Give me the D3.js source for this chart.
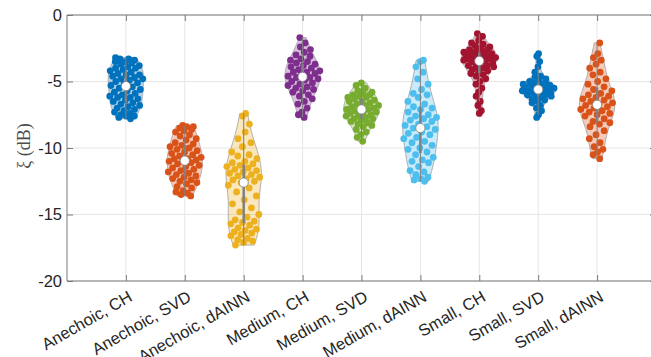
<!DOCTYPE html>
<html>
<head>
<meta charset="utf-8">
<script src="https://cdn.jsdelivr.net/npm/d3@7"></script>
<style>
body{margin:0;background:#fff;}
</style>
</head>
<body>
<svg id="svg" width="651" height="357"></svg>
<script>
var categories = ["Anechoic, CH","Anechoic, SVD","Anechoic, dAINN","Medium, CH","Medium, SVD","Medium, dAINN","Small, CH","Small, SVD","Small, dAINN"];
var colors = ["#0072BD","#D95319","#EDB120","#7E2F8E","#77AC30","#4DBEEE","#A2142F","#0072BD","#D95319"];
var yTicks = [-20,-15,-10,-5,0];

// values (dB)
var anechoicCH = [-3.2,-3.3,-3.3,-3.4,-3.5,-3.5,-3.6,-3.7,-3.8,-3.9,-4.0,-4.0,-4.1,-4.2,-4.3,-4.4,-4.5,-4.5,-4.6,-4.7,-4.8,-4.8,-4.9,-5.0,-5.1,-5.2,-5.3,-5.4,-5.5,-5.6,-5.7,-5.8,-5.9,-6.0,-6.1,-6.2,-6.2,-6.3,-6.4,-6.5,-6.6,-6.7,-6.8,-6.9,-7.0,-7.1,-7.2,-7.3,-7.4,-7.5,-7.6,-7.6,-7.7,-7.8];
var anechoicSVD = [-8.3,-8.4,-8.4,-8.5,-8.6,-8.7,-8.8,-9.0,-9.1,-9.3,-9.4,-9.6,-9.7,-9.8,-9.9,-10.0,-10.1,-10.2,-10.3,-10.4,-10.5,-10.6,-10.7,-10.8,-10.8,-10.9,-11.0,-11.0,-11.1,-11.2,-11.3,-11.4,-11.5,-11.6,-11.7,-11.8,-11.9,-12.0,-12.1,-12.2,-12.3,-12.4,-12.5,-12.6,-12.7,-12.9,-13.0,-13.2,-13.3,-13.4,-13.5,-13.6];
var anechoicDAINN = [-7.4,-7.6,-8.2,-8.8,-9.3,-9.6,-9.9,-10.3,-10.5,-10.6,-10.8,-11.0,-11.1,-11.2,-11.3,-11.4,-11.5,-11.6,-11.7,-11.8,-11.9,-12.0,-12.1,-12.2,-12.3,-12.4,-12.5,-12.6,-12.8,-13.0,-13.3,-13.6,-13.9,-14.2,-14.5,-14.8,-15.0,-15.2,-15.4,-15.5,-15.6,-15.7,-15.8,-16.0,-16.1,-16.2,-16.3,-16.4,-16.5,-16.6,-16.8,-16.9,-17.0,-17.1,-17.3];
var mediumCH = [-1.7,-2.1,-2.4,-2.6,-2.8,-3.0,-3.1,-3.3,-3.4,-3.5,-3.6,-3.7,-3.8,-3.9,-4.0,-4.1,-4.2,-4.3,-4.3,-4.4,-4.5,-4.6,-4.7,-4.7,-4.8,-4.9,-5.0,-5.1,-5.2,-5.3,-5.4,-5.5,-5.6,-5.7,-5.8,-6.0,-6.1,-6.3,-6.5,-6.7,-7.0,-7.3,-7.5,-7.7];
var mediumSVD = [-5.1,-5.3,-5.5,-5.7,-5.8,-5.9,-6.0,-6.0,-6.1,-6.2,-6.2,-6.3,-6.4,-6.5,-6.5,-6.6,-6.7,-6.8,-6.8,-6.9,-7.0,-7.0,-7.1,-7.1,-7.2,-7.3,-7.3,-7.4,-7.5,-7.6,-7.6,-7.7,-7.8,-7.8,-7.9,-8.0,-8.1,-8.2,-8.3,-8.4,-8.6,-8.8,-9.0,-9.2,-9.5];
var mediumDAINN = [-3.4,-3.5,-3.9,-4.3,-4.8,-5.2,-5.6,-5.9,-6.0,-6.2,-6.5,-6.7,-6.9,-7.0,-7.1,-7.3,-7.5,-7.6,-7.7,-7.8,-7.9,-8.0,-8.2,-8.3,-8.4,-8.5,-8.6,-8.8,-8.9,-9.0,-9.2,-9.3,-9.5,-9.6,-9.8,-10.0,-10.1,-10.3,-10.5,-10.7,-10.9,-11.0,-11.1,-11.4,-11.7,-11.8,-12.0,-12.2,-12.3,-12.4,-12.5];
var smallCH = [-1.4,-1.6,-1.9,-2.1,-2.2,-2.3,-2.4,-2.5,-2.6,-2.6,-2.7,-2.8,-2.8,-2.9,-2.9,-3.0,-3.0,-3.1,-3.1,-3.2,-3.2,-3.3,-3.3,-3.4,-3.4,-3.5,-3.5,-3.6,-3.7,-3.8,-3.8,-3.9,-3.9,-4.0,-4.1,-4.2,-4.3,-4.4,-4.5,-4.6,-4.8,-5.0,-5.2,-5.5,-5.8,-6.1,-6.5,-6.8,-7.2,-7.4];
var smallSVD = [-2.9,-3.1,-3.5,-3.9,-4.3,-4.6,-4.7,-4.8,-4.9,-5.0,-5.1,-5.1,-5.2,-5.2,-5.3,-5.3,-5.4,-5.4,-5.4,-5.5,-5.5,-5.6,-5.6,-5.6,-5.7,-5.7,-5.8,-5.8,-5.9,-5.9,-6.0,-6.0,-6.1,-6.1,-6.2,-6.3,-6.4,-6.5,-6.6,-6.8,-7.0,-7.2,-7.5,-7.7];
var smallDAINN = [-2.1,-2.9,-3.2,-3.4,-3.7,-4.0,-4.3,-4.5,-4.8,-5.0,-5.2,-5.4,-5.6,-5.7,-5.9,-6.0,-6.1,-6.2,-6.3,-6.4,-6.5,-6.6,-6.7,-6.8,-6.9,-7.0,-7.1,-7.2,-7.3,-7.4,-7.5,-7.6,-7.8,-8.0,-8.1,-8.2,-8.4,-8.7,-9.0,-9.3,-9.6,-9.9,-10.1,-10.3,-10.5,-10.8];

var series = [anechoicCH,anechoicSVD,anechoicDAINN,mediumCH,mediumSVD,mediumDAINN,smallCH,smallSVD,smallDAINN];

var plotL = 67, plotR = 656, plotT = 15, plotB = 281;
var halfWidth = 0.3;
var tickFont = "'Liberation Sans', Arial, Helvetica, sans-serif";

var svg = d3.select("svg");

var x = d3.scaleLinear().domain([0,10]).range([plotL,plotR]);
var y = d3.scaleLinear().domain([-20,0]).range([plotB,plotT]);

// grid
svg.append("g").selectAll("line")
    .data(d3.range(1,10))
    .enter().append("line")
    .attr("x1",function(d){ return x(d); }).attr("x2",function(d){ return x(d); })
    .attr("y1",plotT).attr("y2",plotB)
    .attr("stroke","#e6e6e6");
svg.append("g").selectAll("line")
    .data(yTicks)
    .enter().append("line")
    .attr("x1",plotL).attr("x2",plotR)
    .attr("y1",function(d){ return y(d); }).attr("y2",function(d){ return y(d); })
    .attr("stroke","#e6e6e6");

// MATLAB-ish ksdensity
var kde = function(vals){
    var n = vals.length;
    var med = d3.median(vals);
    var mad = d3.median(vals.map(function(v){ return Math.abs(v-med); }));
    var bw = (mad/0.6745)*Math.pow(4/(3*n),0.2);
    return function(t){
        var s = 0;
        for(var i=0;i<n;i++){
            var z = (t-vals[i])/bw;
            s += Math.exp(-0.5*z*z);
        }
        return s;
    };
};

var area = d3.area()
    .y(function(d){ return y(d.t); })
    .x0(function(d){ return x(d.pos-d.w); })
    .x1(function(d){ return x(d.pos+d.w); });

series.forEach(function(vals,i){
    var pos = i+1;
    var col = colors[i];
    var f = kde(vals);
    var lo = d3.min(vals), hi = d3.max(vals);
    var grid = d3.range(0,101).map(function(k){ return lo+(hi-lo)*k/100; });
    var dens = grid.map(f);
    var maxD = d3.max(dens);
    var shape = grid.map(function(t,k){ return {t:t,pos:pos,w:halfWidth*dens[k]/maxD}; });

    var g = svg.append("g");
    g.append("path")
        .datum(shape)
        .attr("d",area)
        .attr("fill",col)
        .attr("fill-opacity",0.3)
        .attr("stroke","#9a9a9a")
        .attr("stroke-width",0.8);

    // deterministic jitter inside the violin
    g.selectAll("circle.pt")
        .data(vals)
        .enter().append("circle")
        .attr("class","pt")
        .attr("r",3.4)
        .attr("cx",function(d,k){
            var u = ((k*0.6180339887+i*0.37)%1)*2-1;
            return x(pos+u*halfWidth*f(d)/maxD);
        })
        .attr("cy",function(d){ return y(d); })
        .attr("fill",col);

    var sorted = vals.slice().sort(d3.ascending);
    var q1 = d3.quantile(sorted,0.25), q3 = d3.quantile(sorted,0.75), md = d3.median(sorted);
    var iqr = q3-q1;
    var wLo = d3.min(sorted.filter(function(v){ return v>=q1-1.5*iqr; }));
    var wHi = d3.max(sorted.filter(function(v){ return v<=q3+1.5*iqr; }));

    g.append("line")
        .attr("x1",x(pos)).attr("x2",x(pos))
        .attr("y1",y(wLo)).attr("y2",y(wHi))
        .attr("stroke","#808080").attr("stroke-width",1);
    g.append("line")
        .attr("x1",x(pos)).attr("x2",x(pos))
        .attr("y1",y(q1)).attr("y2",y(q3))
        .attr("stroke","#808080").attr("stroke-width",2.5);
    g.append("circle")
        .attr("cx",x(pos)).attr("cy",y(md))
        .attr("r",4.6)
        .attr("fill","#fff")
        .attr("stroke","#808080")
        .attr("stroke-width",0.8);
});

// axes
var yAxis = svg.append("g")
    .attr("transform","translate("+plotL+",0)")
    .call(d3.axisLeft(y).tickValues(yTicks).tickSize(-6).tickPadding(5).tickFormat(function(d){ return String(d); }));
var yRight = svg.append("g")
    .attr("transform","translate("+plotR+",0)")
    .call(d3.axisRight(y).tickValues(yTicks).tickSize(-6).tickFormat(""));
var xAxis = svg.append("g")
    .attr("transform","translate(0,"+plotB+")")
    .call(d3.axisBottom(x).tickValues(d3.range(1,10)).tickSize(-6).tickFormat(function(d){ return categories[d-1]; }));
var xTop = svg.append("g")
    .attr("transform","translate(0,"+plotT+")")
    .call(d3.axisTop(x).tickValues(d3.range(1,10)).tickSize(-6).tickFormat(""));

yAxis.select(".domain").attr("d","M0,"+plotT+"V"+plotB);
yRight.select(".domain").attr("d","M0,"+plotT+"V"+plotB);
xAxis.select(".domain").attr("d","M"+plotL+",0H"+plotR);
xTop.select(".domain").attr("d","M"+plotL+",0H"+plotR);

[yAxis,yRight,xAxis,xTop].forEach(function(a){
    a.select(".domain").attr("stroke","#7a7a7a");
    a.selectAll(".tick line").attr("stroke","#7a7a7a");
    a.selectAll("text").attr("fill","#262626").style("font-family",tickFont).style("font-size","16.5px");
});

xAxis.selectAll(".tick text")
    .attr("text-anchor","end")
    .attr("y",0).attr("dy",0)
    .attr("transform","translate(7,19) rotate(-30)");

// y label
svg.append("text")
    .attr("transform","translate(30,146) rotate(-90)")
    .attr("text-anchor","middle")
    .style("font-family","'Liberation Serif','Times New Roman',serif")
    .style("font-size","18px")
    .attr("fill","#4d4d4d")
    .text("ξ (dB)");
</script>
</body>
</html>
